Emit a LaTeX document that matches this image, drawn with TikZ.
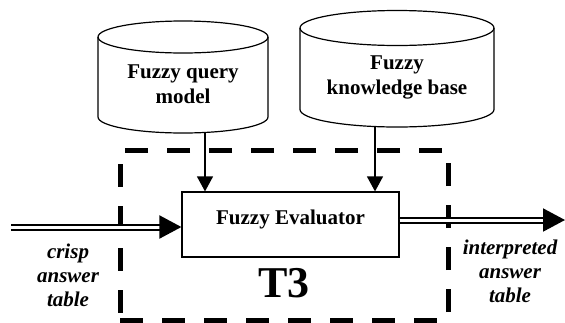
\documentclass[tikz,border=0pt]{standalone}
\usepackage{fontspec}
\setmainfont{Liberation Serif}
\usetikzlibrary{arrows.meta}

\begin{document}
\begin{tikzpicture}[
    x=1pt, y=-1pt,
    drum/.style={draw, line width=1.2pt},
    label/.style={align=center, inner sep=0pt,
        font=\fontsize{21}{25}\selectfont\bfseries},
    evalbox/.style={rectangle, draw, line width=1.2pt, minimum width=217pt,
        minimum height=65pt, text height=15pt, text depth=15pt,
        font=\fontsize{21}{25}\selectfont\bfseries},
    frame/.style={draw, line width=5pt, dash pattern=on 23pt off 19pt},
    flow/.style={double, double distance=3pt, line width=2pt,
        -{Triangle[length=22pt,width=23pt]}},
    feed/.style={line width=1.2pt, -{Triangle[length=15pt,width=16pt]}},
    tag/.style={align=center, font=\fontsize{21}{24}\selectfont\bfseries\itshape}
]
\useasboundingbox (0,0) rectangle (565,322);

\node[frame, minimum width=328pt, minimum height=170pt] (t3box) at (284,235) {};
\node[font=\fontsize{44}{44}\selectfont\bfseries] (t3) at (284,283) {T3};

% query model drum
\draw[drum] (183,37) ellipse[x radius=85pt, y radius=16pt];
\draw[drum] (98,37) -- (98,117) arc[start angle=180, end angle=360, x radius=85pt, y radius=16pt] -- (268,37);
\node[label] (qmodel) at (183,84.5) {Fuzzy query\\model};
\coordinate (qbot) at (205,132.5);

% knowledge base drum
\draw[drum] (397,28) ellipse[x radius=97pt, y radius=17.5pt];
\draw[drum] (300,28) -- (300,109.5) arc[start angle=180, end angle=360, x radius=97pt, y radius=17.5pt] -- (494,28);
\node[label] (kbase) at (397,77.5) {Fuzzy\\knowledge base};
\coordinate (kbot) at (375,126.5);

\node[evalbox] (eval) at (290.5,224.5) {Fuzzy Evaluator};

\draw[feed] (qbot) -- (qbot |- eval.north);
\draw[feed] (kbot) -- (kbot |- eval.north);

\coordinate (inend) at (11,227);
\coordinate (outend) at (565,220);
\draw[flow] (inend) -- (inend -| eval.west);
\draw[flow] (eval.east |- outend) -- (outend);

\node[tag] (crisp) at (68,275) {crisp\\answer\\table};
\node[tag] (interp) at (510,271) {interpreted\\answer\\table};
\end{tikzpicture}
\end{document}
